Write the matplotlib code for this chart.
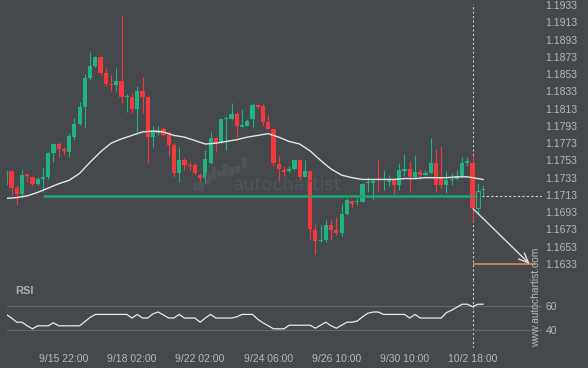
import matplotlib
matplotlib.use('Agg')
import matplotlib.pyplot as plt
from matplotlib.patches import Rectangle
import numpy as np

plt.rcParams['font.family'] = ['Liberation Sans', 'DejaVu Sans']

# 4h candles (index 0 = first candle at the left edge)
opens = [1.1725, 1.1741, 1.1721, 1.1714, 1.1737, 1.1734, 1.1726, 1.1732, 1.1734, 1.1762,
         1.1772, 1.1766, 1.1763, 1.1780, 1.1795, 1.1815, 1.1848, 1.1862, 1.1873, 1.1854,
         1.1842, 1.1840, 1.1845, 1.1826, 1.1826, 1.1813, 1.1833, 1.1826, 1.1780, 1.1785,
         1.1789, 1.1782, 1.1771, 1.1738, 1.1753, 1.1748, 1.1748, 1.1736, 1.1733, 1.1750,
         1.1779, 1.1773, 1.1801, 1.1801, 1.1807, 1.1792, 1.1793, 1.1801, 1.1817, 1.1816,
         1.1797, 1.1789, 1.1749, 1.1742, 1.1741, 1.1743, 1.1753, 1.1734, 1.1741, 1.1672,
         1.1660, 1.1661, 1.1678, 1.1672, 1.1669, 1.1691, 1.1706, 1.1705, 1.1705, 1.1727,
         1.1727, 1.1731, 1.1730, 1.1728, 1.1730, 1.1724, 1.1741, 1.1743, 1.1734, 1.1740,
         1.1736, 1.1739, 1.1750, 1.1734, 1.1724, 1.1730, 1.1732, 1.1735, 1.1750, 1.1750,
         1.1698, 1.1719]
highs = [1.1742, 1.1742, 1.1725, 1.1742, 1.1737, 1.1735, 1.1734, 1.1744, 1.1763, 1.1773,
         1.1774, 1.1769, 1.1785, 1.1802, 1.1821, 1.1853, 1.1879, 1.1874, 1.1874, 1.1860,
         1.1852, 1.1860, 1.1920, 1.1830, 1.1831, 1.1839, 1.1850, 1.1828, 1.1793, 1.1793,
         1.1792, 1.1786, 1.1773, 1.1768, 1.1756, 1.1751, 1.1750, 1.1738, 1.1765, 1.1786,
         1.1780, 1.1801, 1.1804, 1.1820, 1.1809, 1.1813, 1.1801, 1.1820, 1.1818, 1.1818,
         1.1806, 1.1791, 1.1758, 1.1747, 1.1746, 1.1755, 1.1754, 1.1754, 1.1742, 1.1679,
         1.1678, 1.1684, 1.1685, 1.1687, 1.1703, 1.1709, 1.1707, 1.1710, 1.1727, 1.1734,
         1.1732, 1.1754, 1.1742, 1.1736, 1.1732, 1.1750, 1.1761, 1.1752, 1.1759, 1.1743,
         1.1742, 1.1779, 1.1766, 1.1770, 1.1741, 1.1739, 1.1742, 1.1757, 1.1757, 1.1759,
         1.1727, 1.1725]
lows = [1.1723, 1.1713, 1.1701, 1.1709, 1.1728, 1.1723, 1.1725, 1.1716, 1.1732, 1.1751,
        1.1757, 1.1759, 1.1757, 1.1777, 1.1794, 1.1791, 1.1846, 1.1861, 1.1852, 1.1839,
        1.1833, 1.1833, 1.1820, 1.1809, 1.1808, 1.1786, 1.1808, 1.1750, 1.1769, 1.1782,
        1.1781, 1.1758, 1.1734, 1.1728, 1.1742, 1.1742, 1.1736, 1.1728, 1.1727, 1.1749,
        1.1763, 1.1772, 1.1765, 1.1800, 1.1780, 1.1792, 1.1793, 1.1792, 1.1814, 1.1793,
        1.1788, 1.1746, 1.1728, 1.1730, 1.1740, 1.1742, 1.1730, 1.1734, 1.1662, 1.1645,
        1.1658, 1.1658, 1.1661, 1.1667, 1.1665, 1.1690, 1.1699, 1.1701, 1.1705, 1.1717,
        1.1707, 1.1718, 1.1719, 1.1723, 1.1712, 1.1719, 1.1735, 1.1717, 1.1732, 1.1731,
        1.1735, 1.1738, 1.1716, 1.1721, 1.1715, 1.1725, 1.1732, 1.1734, 1.1746, 1.1682,
        1.1691, 1.1713]
closes = [1.1741, 1.1721, 1.1714, 1.1736, 1.1735, 1.1726, 1.1732, 1.1734, 1.1762, 1.1772,
          1.1766, 1.1764, 1.1781, 1.1795, 1.1815, 1.1848, 1.1862, 1.1873, 1.1854, 1.1842,
          1.1840, 1.1845, 1.1826, 1.1828, 1.1813, 1.1833, 1.1826, 1.1780, 1.1786, 1.1788,
          1.1782, 1.1771, 1.1738, 1.1753, 1.1748, 1.1746, 1.1738, 1.1733, 1.1755, 1.1779,
          1.1773, 1.1801, 1.1802, 1.1807, 1.1793, 1.1794, 1.1799, 1.1817, 1.1815, 1.1797,
          1.1789, 1.1750, 1.1743, 1.1740, 1.1743, 1.1753, 1.1734, 1.1741, 1.1673, 1.1660,
          1.1661, 1.1678, 1.1672, 1.1669, 1.1691, 1.1707, 1.1703, 1.1706, 1.1726, 1.1728,
          1.1729, 1.1730, 1.1731, 1.1730, 1.1724, 1.1742, 1.1743, 1.1734, 1.1740, 1.1736,
          1.1739, 1.1750, 1.1725, 1.1725, 1.1730, 1.1732, 1.1735, 1.1750, 1.1752, 1.1698,
          1.1718, 1.1720]

# moving average (white curve), sampled every second candle
ma_idx = list(range(0, 92, 2)) + [91]
ma_vals = [1.1709, 1.1710, 1.1712, 1.1716, 1.1721, 1.1726, 1.1730, 1.1738, 1.1751, 1.1763,
           1.1773, 1.1778, 1.1782, 1.1786, 1.1787, 1.1786, 1.1782, 1.1780, 1.1776, 1.1772,
           1.1773, 1.1775, 1.1777, 1.1780, 1.1782, 1.1784, 1.1780, 1.1775, 1.1772, 1.1764,
           1.1753, 1.1743, 1.1736, 1.1733, 1.1731, 1.1731, 1.1731, 1.1731, 1.1732, 1.1732,
           1.1733, 1.1733, 1.1733, 1.1734, 1.1734, 1.1732, 1.1731]

rsi = [53, 50, 46.5, 46.5, 43.5, 41, 43.5, 43.5, 43.5, 46, 43.5, 43.5, 43.5, 43.5, 43.5,
       47, 50.5, 53, 53, 53, 53, 53, 53, 53, 50, 53, 50, 50, 53.5, 55, 52.5, 50, 50, 53,
       50, 50, 50, 46.5, 50, 53, 50, 50, 50, 50, 51, 53, 53, 53, 49, 46, 43.5, 41, 41, 41,
       44, 44, 44, 44, 44, 41.5, 44, 46.5, 43.5, 41.5, 44, 46.5, 46.5, 47.5, 51, 54, 55, 55,
       53, 53, 53, 53, 53, 50, 53, 50, 50, 50, 50, 50, 54.5, 56.5, 59, 61.5, 61.5, 59.5,
       61.5, 61.5]

tick_idx = [11, 24, 37, 50, 63, 76, 89]
tick_labels = ['9/15 22:00', '9/18 02:00', '9/22 02:00', '9/24 06:00',
               '9/26 10:00', '9/30 10:00', '10/2 18:00']
price_levels = [1.1933 - 0.002 * k for k in range(16)]
rsi_levels = [60, 40]

support = 1.1712
support_from, signal_idx = 7, 89
arrow_from, target = 1.1697, 1.1633
arrow_to_idx, target_end_idx = 99.9, 101.1

bg = '#45484d'
txt = '#b4b7bb'
up = '#1fb47f'
down = '#f5393b'

W, H = 588, 368
fig = plt.figure(figsize=(W / 100, H / 100), dpi=100, facecolor=bg)
left, right = 6.7, 542
ax = fig.add_axes([left / W, 1 - 280 / H, (right - left) / W, 276 / H])
ar = fig.add_axes([left / W, 1 - 348 / H, (right - left) / W, 68 / H], sharex=ax)
for a in (ax, ar):
    a.set_facecolor(bg)
    for s in a.spines.values():
        s.set_visible(False)
    a.yaxis.tick_right()
    a.tick_params(axis='both', length=0, labelsize=7.5, labelcolor=txt, pad=2.5)

x = np.arange(len(opens))
o = np.array(opens); c = np.array(closes)
h = np.array(highs); l = np.array(lows)
col = np.where(c >= o, up, down)

# watermark
fig.text(287 / W, 1 - 190 / H, 'autochartist', fontsize=13, color='#525559',
         family='DejaVu Sans', va='baseline', ha='center', zorder=0)
for bx0, bx1, by0, by1 in [(193, 196, 183, 190), (198, 202.5, 182, 190), (206, 209.5, 173, 183),
                           (211.5, 215, 167, 179), (217, 221.5, 170, 175), (223, 227, 164, 175),
                           (229, 233, 167, 175), (235, 239, 166, 172), (241.5, 246, 158, 167)]:
    fig.patches.append(Rectangle((bx0 / W, 1 - by1 / H), (bx1 - bx0) / W, (by1 - by0) / H,
                                 transform=fig.transFigure, color='#505358', zorder=0))

ax.vlines(x, l, h, color=col, lw=0.8, zorder=2)
body = np.maximum(np.abs(c - o), 0.00009)
fills = list(col)
fills[90] = bg
ax.bar(x, body, bottom=np.minimum(o, c), width=0.8, color=fills,
       edgecolor=[cc if i == 90 else 'none' for i, cc in enumerate(col)], lw=0.8, zorder=3)

ax.plot(ma_idx, ma_vals, color='#e4e4e4', lw=1.0, zorder=4)

ax.hlines(support, support_from, signal_idx, color='#1ea677', lw=1.8, zorder=5)
ax.hlines(support, signal_idx, 103, color='#cfcfcf', lw=0.8, linestyles=(0, (2, 2)), zorder=1)
ax.hlines(target, signal_idx, target_end_idx, color='#e98a4f', lw=1.1, zorder=5)
ax.annotate('', xy=(arrow_to_idx, target), xytext=(signal_idx + 0.1, arrow_from),
            arrowprops=dict(arrowstyle='->,head_length=0.7,head_width=0.3',
                            color='#dedede', lw=1.0, shrinkA=0, shrinkB=0), zorder=6)
for a in (ax, ar):
    a.axvline(signal_idx, color='#c8c8c8', lw=0.8, ls=(0, (2, 2)), zorder=1)

ax.set_xlim(0.08, 102.25)
ax.set_ylim(1.16145, 1.19342)
ax.set_yticks(price_levels)
ax.set_yticklabels([f'{v:.4f}' for v in price_levels])
ax.tick_params(axis='x', labelbottom=False)

# RSI panel
for lv in rsi_levels:
    ar.axhline(lv, color='#65686c', lw=0.8, zorder=1)
ar.plot(x, rsi, color='#e8e8e8', lw=0.9, zorder=3)
ar.set_ylim(25, 81.7)
ar.set_yticks(rsi_levels)
ar.set_xticks(tick_idx)
ar.set_xticklabels(tick_labels)
ar.tick_params(axis='x', pad=4)
fig.text(15 / W, 1 - 291 / H, 'RSI', fontsize=8, fontweight='bold', color='#a7aaae',
         va='center', ha='left')

fig.text(536.5 / W, 1 - 297.5 / H, 'www.autochartist.com', rotation=90, fontsize=7.4,
         color=txt, ha='center', va='center')

fig.savefig('out.png', dpi=100, facecolor=bg)
